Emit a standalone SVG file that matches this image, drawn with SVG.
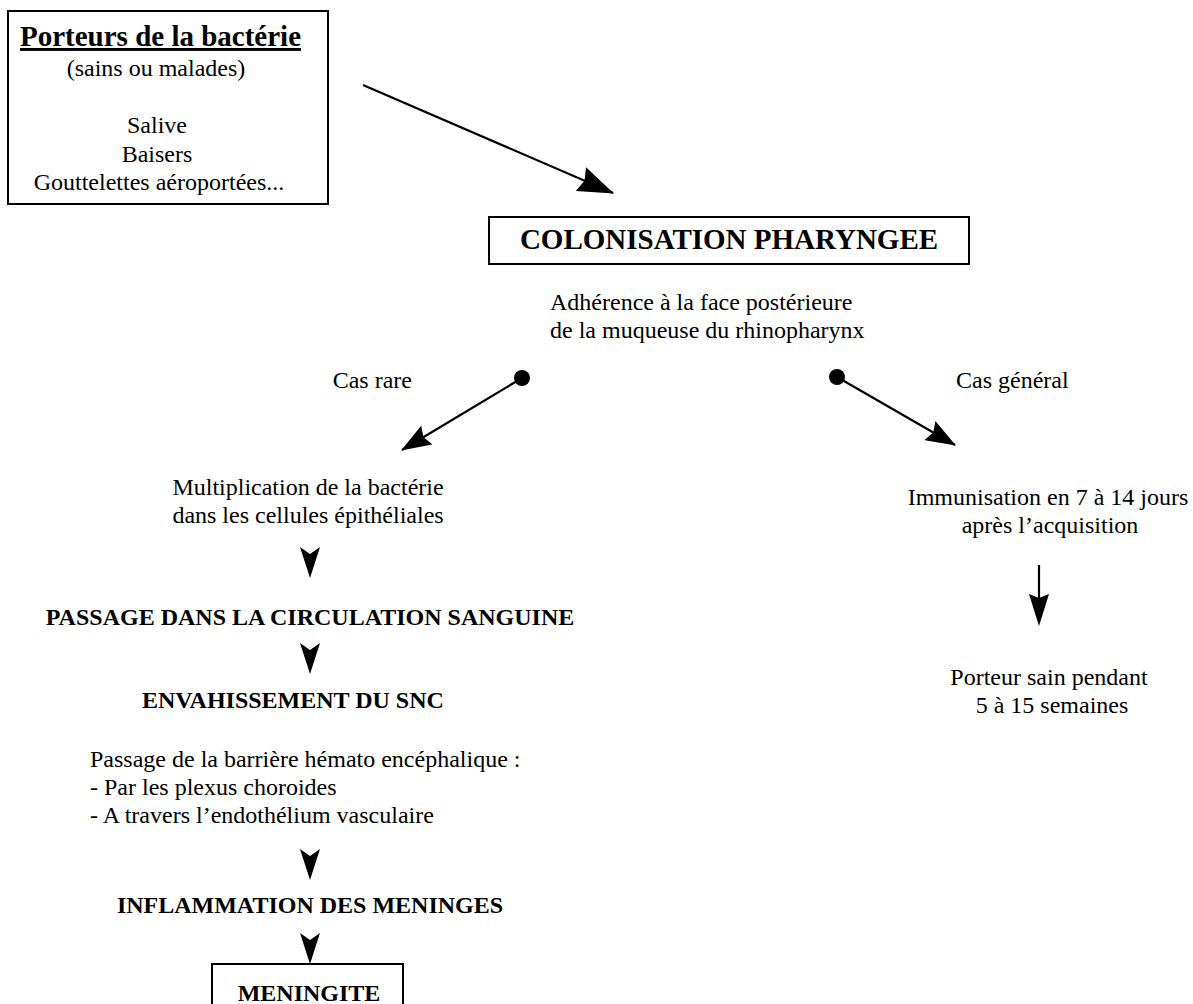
<svg xmlns="http://www.w3.org/2000/svg" width="1193" height="1004" viewBox="0 0 1193 1004">
<style>
text{font-family:"Liberation Serif","Times New Roman",serif;font-size:24px;fill:#000}
.b{font-weight:bold}
.c{text-anchor:middle}
.box{fill:none;stroke:#000;stroke-width:2}
.ln{stroke:#000;stroke-width:2.2;fill:none}
.head{fill:#000}
</style>
<defs>
<marker id="big" markerUnits="userSpaceOnUse" viewBox="0 0 36 26" markerWidth="36" markerHeight="26" refX="35" refY="13" orient="auto">
<path d="M0,0 L36,13 L0,26 L4,13 Z" fill="#000"/>
</marker>
<marker id="small" markerUnits="userSpaceOnUse" viewBox="0 0 30 22" markerWidth="30" markerHeight="22" refX="29" refY="11" orient="auto">
<path d="M0,0 L30,11 L0,22 L4,11 Z" fill="#000"/>
</marker>
</defs>

<g id="porteurs">
<rect class="box" x="8" y="11" width="320" height="193"/>
<text class="b" x="20" y="46" style="font-size:29px;text-decoration:underline">Porteurs de la bactérie</text>
<text class="c" x="156" y="76">(sains ou malades)</text>
<text class="c" x="157" y="133">Salive</text>
<text class="c" x="157" y="162">Baisers</text>
<text class="c" x="159" y="190">Gouttelettes aéroportées...</text>
</g>

<g id="colonisation">
<rect class="box" x="489" y="217" width="480" height="47"/>
<text class="b c" x="729" y="249" style="font-size:29px">COLONISATION PHARYNGEE</text>
</g>

<g id="adherence">
<text x="550" y="310">Adhérence à la face postérieure</text>
<text x="550" y="338">de la muqueuse du rhinopharynx</text>
</g>

<g id="cas-rare"><text x="412" y="388" style="text-anchor:end">Cas rare</text></g>
<g id="cas-general"><text x="956" y="388">Cas général</text></g>

<g id="multiplication">
<text class="c" x="308" y="495">Multiplication de la bactérie</text>
<text class="c" x="308" y="523">dans les cellules épithéliales</text>
</g>

<g id="passage-sang"><text class="b c" x="310" y="625">PASSAGE DANS LA CIRCULATION SANGUINE</text></g>

<g id="envahissement"><text class="b" x="142" y="708">ENVAHISSEMENT DU SNC</text></g>

<g id="barriere">
<text x="90" y="767">Passage de la barrière hémato encéphalique :</text>
<text x="90" y="795">- Par les plexus choroides</text>
<text x="90" y="823">- A travers l’endothélium vasculaire</text>
</g>

<g id="inflammation"><text class="b c" x="310" y="913">INFLAMMATION DES MENINGES</text></g>

<g id="meningite">
<path class="box" d="M212,1010 L212,964 L403,964 L403,1010"/>
<text class="b c" x="309" y="1001">MENINGITE</text>
</g>

<g id="immunisation">
<text class="c" x="1048" y="505">Immunisation en 7 à 14 jours</text>
<text class="c" x="1050" y="533">après l’acquisition</text>
</g>

<g id="porteur-sain">
<text class="c" x="1049" y="685">Porteur sain pendant</text>
<text class="c" x="1052" y="713">5 à 15 semaines</text>
</g>

<g id="connectors">
<line class="ln" x1="363" y1="85" x2="613" y2="193" stroke-width="2.6" marker-end="url(#big)"/>
<circle cx="522" cy="378" r="8" fill="#000"/>
<line class="ln" x1="522" y1="378" x2="402" y2="450" marker-end="url(#small)"/>
<circle cx="837" cy="377" r="8" fill="#000"/>
<line class="ln" x1="837" y1="377" x2="955" y2="445" marker-end="url(#small)"/>
<line class="ln" x1="1039" y1="565" x2="1039" y2="605"/>
<path class="head" d="M1029,594 L1039,598 L1049,594 L1039,626 Z"/>
<path class="head" d="M300,547 L310,554 L320,547 L310,578 Z"/>
<path class="head" d="M300,643 L310,650 L320,643 L310,674 Z"/>
<path class="head" d="M300,849 L310,856 L320,849 L310,880 Z"/>
<path class="head" d="M300,933 L310,940 L320,933 L310,964 Z"/>
</g>
</svg>
